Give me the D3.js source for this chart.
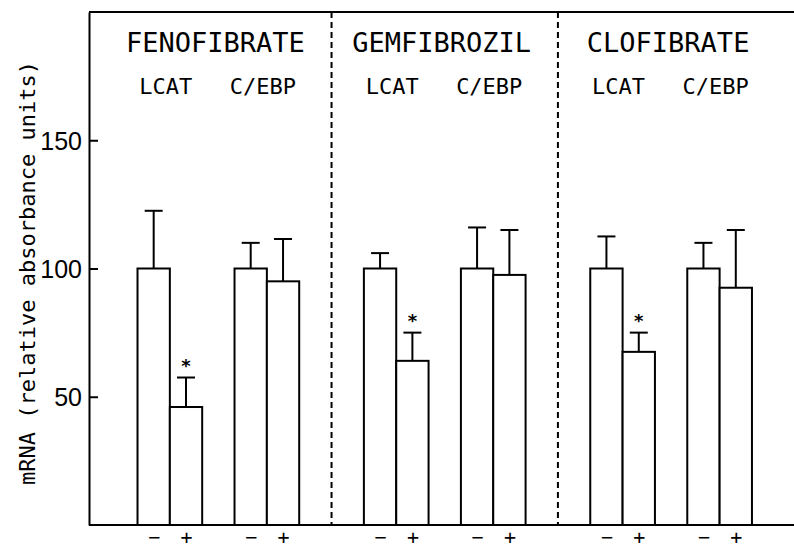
<!DOCTYPE html>
<html>

<head>
    <meta charset="utf-8">
    <style>
        body {
            margin: 0;
            background: #fff;
        }

        svg {
            display: block;
        }

        .y .tick line {
            stroke: #000;
            stroke-width: 2;
        }

        .y .domain {
            stroke: #000;
            stroke-width: 2;
        }

        .y .tick text {
            font-family: "Liberation Sans", Arial, sans-serif;
            font-size: 25px;
            fill: #000;
        }

        .x .domain {
            display: none;
        }

        .x .tick text {
            font-family: "DejaVu Sans Mono", monospace;
            font-size: 20px;
            fill: #000;
        }

        .mono {
            font-family: "DejaVu Sans Mono", monospace;
            fill: #000;
        }
    </style>
</head>

<body>
    <svg width="794" height="549"></svg>
</body>

<script src="https://d3js.org/d3.v7.min.js"></script>

<script>
    // data
    let drugs = ["FENOFIBRATE", "GEMFIBROZIL", "CLOFIBRATE"]
    let genes = ["LCAT", "C/EBP"]
    let treatments = ["\u2212", "+"]

    // order: drug -> gene -> treatment (-, +)
    let means = [100, 46, 100, 95, 100, 64, 100, 97.5, 100, 67.5, 100, 92.5]
    let errors = [22.5, 11.5, 10, 16.5, 6, 11, 16, 17.5, 12.5, 7.5, 10, 22.5]
    let significant = [false, true, false, false, false, true, false, false, false, true, false, false]

    let yTicks = [50, 100, 150]

    let svg = d3.select("svg")

    // x is measured in "bar widths"
    let x = d3.scaleLinear()
        .domain([0, 21.8])
        .range([89, 794])

    let y = d3.scaleLinear()
        .domain([0, 200])
        .range([525, 12])

    let bars = []
    drugs.forEach(function (drug, g) {
        genes.forEach(function (gene, p) {
            treatments.forEach(function (t, k) {
                let i = g * 4 + p * 2 + k
                bars.push({
                    drug: drug,
                    gene: gene,
                    treatment: t,
                    left: 1.5 + 7 * g + 3 * p + k,
                    mean: means[i],
                    err: errors[i],
                    sig: significant[i]
                })
            })
        })
    })

    // frame: top line + bottom line
    svg.append("line")
        .attr("x1", x(0)).attr("x2", x(21.8))
        .attr("y1", y(200)).attr("y2", y(200))
        .attr("stroke", "#000")
        .attr("stroke-width", 2)

    svg.append("line")
        .attr("x1", x(0)).attr("x2", x(21.8))
        .attr("y1", y(0)).attr("y2", y(0))
        .attr("stroke", "#000")
        .attr("stroke-width", 2)

    // dashed separators between drugs
    svg.append("g")
        .selectAll("line")
        .data([7.5, 14.5])
        .join("line")
        .attr("x1", d => x(d)).attr("x2", d => x(d))
        .attr("y1", y(200)).attr("y2", y(0))
        .attr("stroke", "#000")
        .attr("stroke-width", 2)
        .attr("stroke-dasharray", "6,4")

    // y axis with inward ticks
    let yAxisSettings = d3.axisLeft(y)
        .tickValues(yTicks)
        .tickSizeInner(-9)
        .tickSizeOuter(0)
        .tickPadding(7)

    svg.append("g")
        .attr("class", "y axis")
        .attr("transform", `translate(${x(0)},0)`)
        .call(yAxisSettings)
        .call(g => g.selectAll(".tick text").attr("dy", "0.36em"))

    // - / + under each bar
    let xAxisSettings = d3.axisBottom(x)
        .tickValues(bars.map(d => d.left + 0.5))
        .tickFormat((d, i) => bars[i].treatment)
        .tickSize(0)
        .tickPadding(5)

    svg.append("g")
        .attr("class", "x axis")
        .attr("transform", `translate(0,${y(0)})`)
        .call(xAxisSettings)

    // bars
    svg.append("g")
        .selectAll("rect")
        .data(bars)
        .join("rect")
        .attr("x", d => x(d.left))
        .attr("y", d => y(d.mean))
        .attr("width", d => x(d.left + 1) - x(d.left))
        .attr("height", d => y(0) - y(d.mean))
        .attr("fill", "#fff")
        .attr("stroke", "#000")
        .attr("stroke-width", 2)

    // error bars
    let errG = svg.append("g")
        .attr("stroke", "#000")
        .attr("stroke-width", 2)

    errG.selectAll(".stem")
        .data(bars)
        .join("line")
        .attr("class", "stem")
        .attr("x1", d => x(d.left + 0.5)).attr("x2", d => x(d.left + 0.5))
        .attr("y1", d => y(d.mean)).attr("y2", d => y(d.mean + d.err))

    errG.selectAll(".cap")
        .data(bars)
        .join("line")
        .attr("class", "cap")
        .attr("x1", d => x(d.left + 0.5) - 9).attr("x2", d => x(d.left + 0.5) + 9)
        .attr("y1", d => y(d.mean + d.err)).attr("y2", d => y(d.mean + d.err))

    // asterisks
    svg.append("g")
        .selectAll("text")
        .data(bars.filter(d => d.sig))
        .join("text")
        .attr("x", d => x(d.left + 0.5))
        .attr("y", d => y(d.mean + d.err) - 6)
        .attr("text-anchor", "middle")
        .style("font-family", "DejaVu Sans, sans-serif")
        .style("font-weight", "bold")
        .style("font-size", "18px")
        .text("*")

    // drug titles
    svg.append("g")
        .selectAll("text")
        .data(drugs)
        .join("text")
        .attr("class", "mono")
        .attr("x", (d, g) => x(4 + 7 * g) - 3)
        .attr("y", 52)
        .attr("text-anchor", "middle")
        .style("font-size", "27px")
        .text(d => d)

    // gene labels
    let geneLabels = []
    drugs.forEach(function (drug, g) {
        genes.forEach(function (gene, p) {
            geneLabels.push({ gene: gene, center: 2.5 + 7 * g + 3 * p })
        })
    })

    svg.append("g")
        .selectAll("text")
        .data(geneLabels)
        .join("text")
        .attr("class", "mono")
        .attr("x", d => x(d.center) - 4)
        .attr("y", 94)
        .attr("text-anchor", "middle")
        .style("font-size", "22px")
        .text(d => d.gene)

    // y axis title
    svg.append("text")
        .attr("class", "mono")
        .attr("transform", "translate(35,273) rotate(-90)")
        .attr("text-anchor", "middle")
        .style("font-size", "22px")
        .text("mRNA (relative absorbance units)")

</script>

</html>
